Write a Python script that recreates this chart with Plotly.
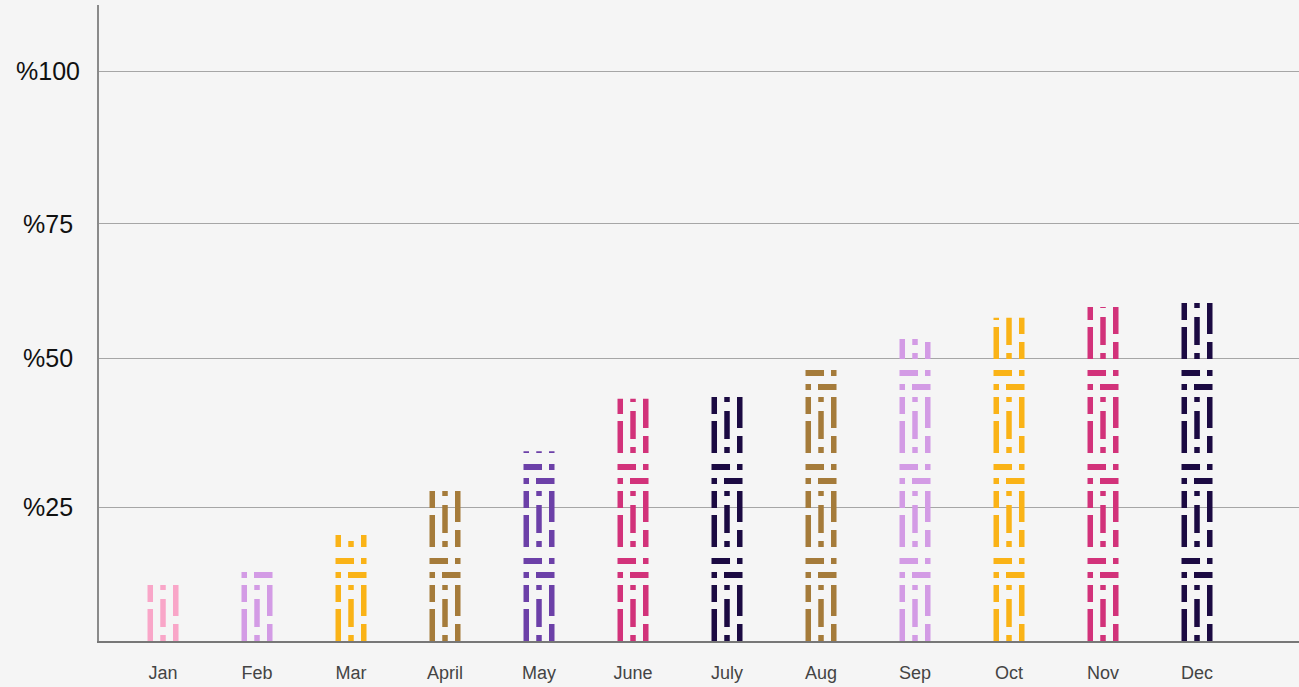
import plotly.graph_objects as go

# ---------------- data ----------------
months = ["Jan", "Feb", "Mar", "April", "May", "June", "July", "Aug", "Sep", "Oct", "Nov", "Dec"]
values = [10.2, 13.9, 18.6, 27.0, 33.3, 42.5, 44.0, 47.7, 53.0, 56.7, 58.6, 60.4]
colors = ["#F9A6C8", "#D39BE5", "#FAB317", "#A57B3A", "#6C40A8", "#D2327A",
          "#1B0A42", "#A57B3A", "#D39BE5", "#FAB317", "#D2327A", "#1B0A42"]
grid_values = [23.5, 49.6, 73.2, 100]
grid_labels = ["%25", "%50", "%75", "%100"]

# ---------------- layout geometry ----------------
W, H = 1299, 687
M_L, M_R, M_T, M_B = 99, 0, 5, 46
plot_w = W - M_L - M_R
plot_h = H - M_T - M_B
X_RANGE = [-0.681, 12.085]
Y_RANGE = [0, 111.6]
px_x = plot_w / (X_RANGE[1] - X_RANGE[0])   # pixels per x unit
px_y = plot_h / (Y_RANGE[1] - Y_RANGE[0])   # pixels per y unit

# pattern style (pixels)
BAR_W = 31.0
COL_W = 5.5
ROW_W = 6.0
PERIOD = 94.0
ROW_LOW = 66.0    # centre of lower row within a tile
ROW_HIGH = 80.0   # centre of upper row within a tile
DASH_LEFT = "32px,7px,17px,38px"
DASH_CENTER = "6px,8px,28px,9px,5px,38px"
DASH_RIGHT = "17px,8px,31px,38px"
DASH_ROW_HIGH = "18.5px,7px,5.5px,200px"
DASH_ROW_LOW = "5.5px,7px,18.5px,200px"

fig = go.Figure()

# transparent bars carrying the data
fig.add_trace(go.Bar(
    x=list(range(len(months))), y=values, width=BAR_W / px_x,
    marker=dict(color="rgba(0,0,0,0)", line=dict(width=0)),
    hovertext=months, hoverinfo="text+y", showlegend=False,
))

for i, (v, c) in enumerate(zip(values, colors)):
    half = BAR_W / 2 / px_x
    off = (BAR_W / 2 - COL_W / 2) / px_x
    # vertical dash-dot columns
    for dx, dash in ((-off, DASH_LEFT), (0.0, DASH_CENTER), (off, DASH_RIGHT)):
        fig.add_trace(go.Scatter(
            x=[i + dx, i + dx], y=[0, v], mode="lines",
            line=dict(color=c, width=COL_W, dash=dash),
            hoverinfo="skip", showlegend=False,
        ))
    # horizontal rows of the pattern
    v_px = v * px_y
    k = 0
    while k * PERIOD < v_px:
        for rc, dash in ((ROW_LOW, DASH_ROW_LOW), (ROW_HIGH, DASH_ROW_HIGH)):
            yc = k * PERIOD + rc
            if yc + ROW_W / 2 <= v_px + 1:
                fig.add_trace(go.Scatter(
                    x=[i - half, i + half], y=[yc / px_y, yc / px_y], mode="lines",
                    line=dict(color=c, width=ROW_W, dash=dash),
                    hoverinfo="skip", showlegend=False,
                ))
        k += 1

# y labels as centred annotations
for gv, gl in zip(grid_values, grid_labels):
    fig.add_annotation(
        x=(48 - M_L) / plot_w, xref="paper", y=gv, yref="y",
        text=gl, showarrow=False, xanchor="center", yanchor="middle",
        font=dict(family="Liberation Sans, Arial, sans-serif", size=25, color="#111111"),
    )

fig.update_layout(
    width=W, height=H,
    margin=dict(l=M_L, r=M_R, t=M_T, b=M_B, pad=0),
    paper_bgcolor="#F5F5F5", plot_bgcolor="#F5F5F5",
    showlegend=False, bargap=0,
    xaxis=dict(
        range=X_RANGE, tickmode="array", tickvals=list(range(len(months))), ticktext=months,
        showgrid=False, zeroline=False, showline=True, linecolor="#777777", linewidth=2,
        ticks="outside", ticklen=14, tickcolor="rgba(0,0,0,0)",
        tickfont=dict(family="Liberation Sans, Arial, sans-serif", size=18, color="#444444"),
        fixedrange=True,
    ),
    yaxis=dict(
        range=Y_RANGE, tickmode="array", tickvals=grid_values, showticklabels=False,
        showgrid=True, gridcolor="#a6a6a6", gridwidth=1, zeroline=False,
        showline=True, linecolor="#8a8a8a", linewidth=1.5, fixedrange=True,
    ),
)

fig.write_html(
    "out.html",
    config={"displayModeBar": False},
    post_script="document.body.style.margin='0';document.body.style.background='#F5F5F5';",
)
